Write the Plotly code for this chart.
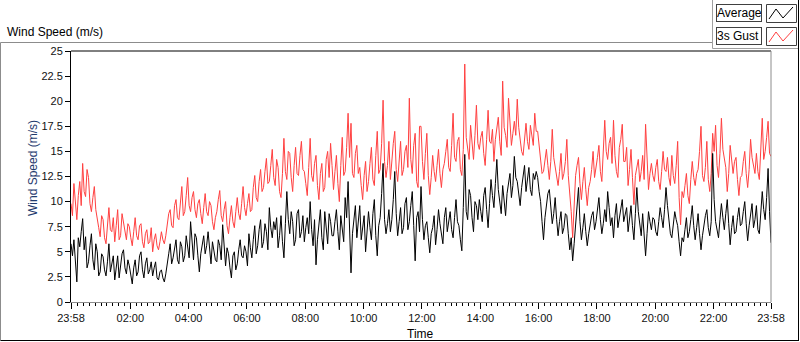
import pandas as pd
import plotly.graph_objects as go

# ---------------- data (3-minute samples, 23:58 -> 23:58 next day) ----------------
start_time = "2015-01-01 23:58"
step_minutes = 3

avg_speed = [
    5.8, 4.6, 6.2, 4.0, 2.0, 6.4, 5.5, 7.0, 8.3, 5.2, 6.5, 3.4, 4.0, 5.6, 6.8, 4.2, 3.2, 5.8, 5.0, 2.6,
    3.0, 4.8, 4.5, 3.2, 2.6, 4.0, 5.8, 3.0, 3.8, 4.6, 2.2, 3.6, 4.6, 2.4, 3.4, 4.8, 5.2, 3.4, 2.8, 4.2,
    3.6, 2.8, 1.8, 3.4, 4.2, 2.6, 3.0, 4.6, 5.0, 3.2, 2.4, 3.8, 4.4, 2.8, 3.2, 4.0, 2.6, 3.4, 4.0, 2.4,
    2.2, 3.0, 3.2, 2.4, 2.0, 2.8, 3.6, 4.8, 5.8, 3.8, 4.4, 5.4, 6.2, 4.2, 3.8, 6.0, 5.5, 4.0, 4.6, 6.6,
    5.6, 4.4, 8.0, 5.6, 4.2, 6.8, 6.4, 4.6, 3.0, 4.8, 5.8, 6.6, 4.8, 5.6, 7.0, 5.0, 3.8, 6.0, 5.2, 4.2,
    4.0, 6.2, 5.6, 4.2, 7.7, 5.0, 3.6, 5.4, 4.8, 3.4, 2.4, 4.6, 5.0, 3.2, 3.8, 5.2, 6.2, 4.6, 4.4, 5.6,
    5.0, 3.6, 6.8, 5.4, 4.4, 6.2, 7.6, 4.8, 5.6, 7.2, 8.2, 5.4, 6.0, 7.8, 7.0, 5.2, 9.4, 7.4, 6.4, 8.0,
    7.2, 8.4, 5.4, 6.6, 8.6, 6.0, 4.4, 7.8, 11.0, 8.2, 6.8, 9.0, 8.0, 5.6, 6.2, 8.8, 9.2, 6.4, 7.0, 8.6,
    6.0, 7.4, 8.4, 6.8, 10.0, 7.2, 5.6, 8.2, 3.7, 6.2, 7.8, 9.2, 6.4, 5.2, 9.0, 7.6, 5.8, 8.8, 8.0, 6.6,
    6.6, 8.0, 9.2, 7.0, 5.2, 8.6, 7.4, 6.0, 10.4, 8.4, 12.0, 7.6, 2.9, 6.8, 8.2, 9.6, 6.4, 7.8, 9.6, 6.2,
    7.2, 8.6, 5.0, 6.8, 9.0, 7.4, 6.2, 8.8, 10.2, 6.6, 4.6, 7.6, 8.4, 10.8, 13.8, 8.2, 6.8, 7.8, 9.2, 7.0,
    8.2, 10.2, 13.0, 8.8, 6.6, 8.0, 9.4, 6.8, 7.4, 9.8, 10.4, 7.2, 8.0, 9.6, 11.0, 7.6, 4.1, 8.4, 9.0, 7.0,
    11.5, 8.2, 6.2, 7.6, 8.0, 6.4, 4.9, 6.8, 7.4, 8.6, 5.7, 7.2, 9.2, 7.8, 6.6, 5.8, 8.4, 9.4, 7.0, 8.2,
    9.0, 7.2, 6.4, 8.4, 10.2, 8.0, 7.6, 6.2, 5.1, 9.4, 14.7, 9.0, 8.2, 11.2, 10.6, 8.4, 7.0, 10.0, 9.6, 8.2,
    10.2, 9.0, 8.0, 10.6, 11.4, 9.2, 7.4, 9.8, 12.2, 10.6, 9.4, 11.8, 14.2, 11.2, 10.0, 8.8, 11.6, 10.4, 8.6, 10.8,
    11.8, 12.8, 10.4, 11.6, 14.5, 12.4, 12.0, 10.8, 9.6, 11.4, 12.6, 13.6, 11.0, 12.0, 13.4, 11.2, 10.6, 12.8, 12.2, 13.0,
    12.4, 11.0, 10.0, 8.0, 6.2, 8.4, 9.4, 10.8, 11.2, 9.0, 7.8, 8.8, 10.4, 8.2, 6.6, 8.0, 9.0, 6.8, 7.4, 8.8,
    8.6, 6.8, 5.2, 6.4, 4.1, 5.8, 7.4, 9.2, 11.4, 8.0, 6.2, 7.4, 8.8, 7.0, 5.6, 6.8, 7.8, 8.6, 9.0, 7.2,
    8.0, 9.0, 10.4, 8.2, 6.8, 7.8, 9.2, 8.0, 11.0, 9.4, 7.6, 8.4, 6.4, 8.6, 9.8, 7.4, 8.4, 9.6, 10.2, 8.0,
    8.6, 9.4, 7.0, 8.2, 9.6, 7.6, 6.2, 8.8, 11.4, 9.0, 7.8, 6.6, 8.8, 7.0, 4.6, 6.8, 9.0, 8.0, 7.2, 8.4,
    8.2, 7.0, 6.6, 8.0, 9.4, 8.4, 7.4, 9.2, 11.4, 9.6, 8.0, 6.8, 6.4, 7.8, 9.0, 8.2, 7.6, 6.0, 4.6, 6.4,
    6.0, 7.2, 8.4, 6.4, 7.0, 8.2, 9.6, 7.6, 6.2, 7.4, 8.8, 6.8, 5.2, 6.6, 7.8, 8.6, 9.2, 7.4, 6.6, 8.0,
    14.8, 10.2, 8.0, 7.0, 6.4, 8.2, 9.8, 8.4, 7.2, 8.8, 10.2, 7.8, 5.7, 7.4, 8.6, 6.8, 7.0, 8.4, 9.4, 7.6,
    7.8, 9.0, 10.0, 7.8, 6.1, 7.6, 8.8, 9.8, 7.4, 8.2, 9.6, 7.2, 6.8, 8.6, 11.0, 9.2, 8.2, 10.4, 13.3, 9.0,
    5.9,
]

gust_speed = [
    9.8, 8.6, 11.8, 10.2, 8.2, 10.6, 12.0, 9.6, 13.8, 11.0, 10.5, 13.2, 12.4, 9.8, 9.0, 10.4, 11.5, 9.2, 8.0, 7.4,
    6.5, 8.6, 8.2, 6.4, 5.8, 7.4, 9.4, 7.2, 7.0, 8.4, 6.0, 7.6, 9.2, 6.2, 6.6, 8.8, 8.0, 7.0, 6.2, 7.8,
    7.5, 6.4, 5.6, 7.0, 8.4, 6.6, 6.2, 7.6, 7.8, 6.0, 5.4, 6.8, 7.2, 5.8, 6.0, 7.4, 5.0, 6.2, 6.8, 5.6,
    5.2, 6.0, 7.0, 6.2, 5.8, 6.6, 8.0, 8.8, 9.2, 7.6, 7.4, 9.6, 10.2, 8.4, 8.2, 10.0, 11.5, 8.6, 9.0, 10.6,
    12.4, 9.6, 9.0, 10.4, 11.0, 9.2, 8.4, 9.8, 10.2, 8.8, 7.8, 9.4, 10.8, 9.0, 8.6, 10.0, 9.6, 8.0, 7.2, 8.4,
    9.0, 10.2, 11.1, 8.6, 8.0, 9.2, 10.0, 7.6, 6.8, 8.4, 9.6, 8.0, 7.4, 9.0, 10.4, 8.8, 8.2, 9.8, 11.5, 9.4,
    8.6, 9.8, 10.8, 9.0, 9.2, 11.4, 12.6, 10.4, 10.0, 12.0, 13.2, 11.0, 11.4, 13.0, 14.3, 11.8, 12.0, 13.6, 15.2, 12.4,
    11.6, 14.2, 13.4, 11.0, 10.4, 12.8, 16.3, 13.0, 12.2, 15.0, 14.8, 12.4, 11.0, 13.6, 15.4, 12.8, 12.6, 14.6, 16.0, 13.2,
    13.0, 11.8, 10.6, 13.4, 16.3, 12.6, 12.0, 13.8, 14.6, 11.6, 10.2, 12.8, 13.8, 11.0, 11.4, 14.2, 15.0, 12.4, 15.8, 13.6,
    11.2, 13.0, 14.6, 11.8, 10.0, 13.6, 16.4, 12.6, 13.0, 15.4, 18.8, 14.4, 17.8, 12.8, 12.4, 14.8, 15.6, 12.8, 13.4, 11.6,
    10.2, 12.6, 14.0, 11.0, 12.0, 13.8, 15.4, 12.2, 11.6, 14.6, 17.0, 12.8, 13.2, 15.8, 20.1, 14.0, 12.4, 13.6, 16.0, 12.2,
    14.4, 15.8, 17.0, 13.2, 12.0, 14.4, 16.0, 12.6, 13.2, 15.0, 15.6, 13.4, 20.3, 14.2, 12.8, 15.6, 16.8, 12.0, 11.4, 17.5,
    17.5, 14.0, 12.2, 14.8, 16.8, 12.6, 10.7, 12.4, 14.6, 13.0, 12.0, 13.6, 15.2, 12.8, 11.4, 13.2, 13.8, 15.0, 16.2, 13.4,
    13.0, 15.6, 18.8, 14.4, 14.0, 16.0, 16.4, 13.2, 12.6, 15.2, 23.7, 16.4, 15.0, 14.2, 17.6, 15.4, 14.2, 16.6, 19.6, 15.8,
    15.2, 16.4, 17.0, 14.8, 13.6, 16.2, 19.1, 16.0, 15.8, 17.2, 14.0, 16.2, 17.4, 18.4, 16.0, 14.6, 22.0, 17.4, 16.6, 15.4,
    20.3, 17.2, 15.6, 16.8, 18.0, 16.6, 20.2, 17.4, 16.4, 15.0, 14.6, 16.2, 17.8, 16.0, 15.2, 17.6, 16.8, 15.6, 18.8, 17.0,
    17.0, 15.8, 14.4, 12.8, 13.0, 14.2, 15.2, 13.6, 12.2, 14.0, 17.2, 14.4, 13.6, 12.4, 11.6, 13.0, 14.8, 12.2, 12.8, 14.0,
    16.2, 12.6, 11.0, 9.0, 6.4, 9.8, 12.6, 13.6, 14.4, 11.8, 10.2, 12.0, 13.4, 11.2, 9.6, 11.4, 12.0, 13.2, 15.0, 12.4,
    13.2, 14.4, 15.6, 13.0, 12.0, 14.6, 18.1, 15.0, 14.2, 15.8, 16.4, 13.8, 18.1, 14.6, 13.0, 12.4, 15.4, 16.2, 17.7, 14.0,
    14.0, 15.4, 11.6, 13.2, 15.2, 12.4, 9.7, 12.6, 13.4, 14.2, 12.0, 13.0, 14.6, 12.2, 17.7, 13.4, 11.2, 12.8, 13.8, 12.6,
    12.0, 13.4, 14.2, 12.0, 11.2, 13.0, 15.0, 13.2, 13.0, 14.4, 12.4, 11.6, 14.6, 12.6, 11.8, 13.6, 16.0, 10.4, 7.7, 11.0,
    10.4, 11.6, 12.8, 10.6, 9.8, 12.2, 14.0, 12.4, 11.6, 12.8, 13.2, 15.0, 17.5, 12.6, 12.0, 13.4, 16.0, 12.2, 11.0, 12.8,
    16.8, 15.0, 17.6, 13.6, 12.4, 14.8, 18.3, 15.2, 14.2, 13.4, 11.0, 12.8, 15.6, 13.8, 12.8, 14.0, 14.4, 12.2, 10.6, 12.4,
    12.6, 14.0, 15.0, 12.8, 11.4, 13.2, 16.2, 14.4, 13.6, 12.8, 14.8, 13.0, 12.2, 15.6, 18.3, 14.2, 15.0, 16.4, 18.0, 14.8,
    14.5,
]

tick_times = ["2015-01-01 23:58", "2015-01-02 02:00", "2015-01-02 04:00",
              "2015-01-02 06:00", "2015-01-02 08:00", "2015-01-02 10:00",
              "2015-01-02 12:00", "2015-01-02 14:00", "2015-01-02 16:00",
              "2015-01-02 18:00", "2015-01-02 20:00", "2015-01-02 22:00",
              "2015-01-02 23:58"]
tick_labels = ["23:58", "02:00", "04:00", "06:00", "08:00", "10:00", "12:00",
               "14:00", "16:00", "18:00", "20:00", "22:00", "23:58"]

series_names = ["Average", "3s Gust"]
series_colors = ["#000000", "#FF4040"]

# ---------------- figure ----------------
avg_times = pd.date_range(start=start_time, periods=len(avg_speed), freq=f"{step_minutes}min")
gust_times = pd.date_range(start=start_time, periods=len(gust_speed), freq=f"{step_minutes}min")

W, H = 800, 342
L, R, T, B = 71, 771, 51, 302  # plot area pixels


def px(x):
    return (x - L) / (R - L)


def py(y):
    return (B - y) / (B - T)


FONT = "Liberation Sans, Arial, sans-serif"

fig = go.Figure()
fig.add_trace(go.Scatter(x=gust_times, y=gust_speed, mode="lines", name=series_names[1],
                         line=dict(color=series_colors[1], width=1)))
fig.add_trace(go.Scatter(x=avg_times, y=avg_speed, mode="lines", name=series_names[0],
                         line=dict(color=series_colors[0], width=1)))

fig.update_layout(
    width=W, height=H,
    margin=dict(l=L, r=W - R, t=T, b=H - B, pad=0),
    paper_bgcolor="white", plot_bgcolor="white",
    showlegend=False,
    font=dict(family=FONT, size=11, color="#111111"),
)

fig.update_xaxes(
    type="date",
    range=[tick_times[0], tick_times[-1]],
    tickmode="array", tickvals=tick_times, ticktext=tick_labels,
    ticks="outside", ticklen=6, tickwidth=1, tickcolor="#000000",
    minor=dict(ticks="outside", ticklen=3, tickwidth=1, tickcolor="#000000",
               tickmode="linear", tick0="2015-01-02 00:00", dtick=12 * 60 * 1000),
    showgrid=False, zeroline=False,
    showline=True, linecolor="#8c8c8c", linewidth=1,
    tickfont=dict(family=FONT, size=11, color="#111111"),
)
fig.update_yaxes(
    range=[0, 25], tickmode="linear", tick0=0, dtick=2.5,
    ticks="outside", ticklen=5, tickwidth=1, tickcolor="#000000",
    showgrid=False, zeroline=False,
    showline=True, linecolor="#000000", linewidth=1,
    tickfont=dict(family=FONT, size=11, color="#111111"),
)

shapes = []
# plot frame top (black) and right (gray)
shapes.append(dict(type="line", xref="paper", yref="paper", x0=0, x1=1, y0=1, y1=1,
                   line=dict(color="#000000", width=1)))
shapes.append(dict(type="line", xref="paper", yref="paper", x0=1, x1=1, y0=0, y1=1,
                   line=dict(color="#8c8c8c", width=1)))
# outer control frame
shapes.append(dict(type="line", xref="paper", yref="paper", x0=px(0.5), x1=px(712), y0=py(42.5), y1=py(42.5),
                   line=dict(color="#8c8c8c", width=1)))
shapes.append(dict(type="line", xref="paper", yref="paper", x0=px(0.5), x1=px(0.5), y0=py(42.5), y1=py(340.5),
                   line=dict(color="#8c8c8c", width=1)))
shapes.append(dict(type="line", xref="paper", yref="paper", x0=px(0.5), x1=px(799), y0=py(340.5), y1=py(340.5),
                   line=dict(color="#000000", width=1)))
shapes.append(dict(type="line", xref="paper", yref="paper", x0=px(798.5), x1=px(798.5), y0=py(0), y1=py(341),
                   line=dict(color="#000000", width=1)))
# legend panel frame
shapes.append(dict(type="line", xref="paper", yref="paper", x0=px(712.5), x1=px(712.5), y0=py(0), y1=py(48.5),
                   line=dict(color="#a0a0a0", width=1)))
shapes.append(dict(type="line", xref="paper", yref="paper", x0=px(712.5), x1=px(798), y0=py(48.5), y1=py(48.5),
                   line=dict(color="#a0a0a0", width=1)))

annotations = []
legend_rows = [(4, 22), (27, 45)]
for name, color, (y0, y1) in zip(series_names, series_colors, legend_rows):
    annotations.append(dict(
        text=name, xref="paper", yref="paper", x=px(716), y=py(y0), xanchor="left", yanchor="top",
        showarrow=False, width=44, height=y1 - y0 - 2, align="left", valign="middle",
        bordercolor="#404040", borderwidth=1, borderpad=0, bgcolor="white",
        font=dict(family=FONT, size=12, color="#000000")))
    shapes.append(dict(type="rect", xref="paper", yref="paper",
                       x0=px(766.5), x1=px(796.5), y0=py(y0 + 0.5), y1=py(y1 + 0.5),
                       line=dict(color="#404040", width=1), fillcolor="white"))
    pts = [(769, y1 - 3), (776, y0 + 5), (783, y1 - 4), (793, y0 + 3)]
    path = "M " + " L ".join(f"{px(a)},{py(b)}" for a, b in pts)
    shapes.append(dict(type="path", xref="paper", yref="paper", path=path,
                       line=dict(color=color, width=1)))

annotations.append(dict(text="Wind Speed (m/s)", xref="paper", yref="paper", x=px(5), y=py(32),
                        xanchor="left", yanchor="middle", showarrow=False,
                        font=dict(family=FONT, size=12, color="#000000")))
annotations.append(dict(text="Wind Speed (m/s)", xref="paper", yref="paper", x=px(33), y=py(168),
                        xanchor="center", yanchor="middle", textangle=-90, showarrow=False,
                        font=dict(family=FONT, size=12, color="#1f3b6e")))
annotations.append(dict(text="Time", xref="paper", yref="paper", x=px(420), y=py(334),
                        xanchor="center", yanchor="middle", showarrow=False,
                        font=dict(family=FONT, size=12, color="#000000")))

fig.update_layout(shapes=shapes, annotations=annotations)
fig.write_html("out.html", config={"displayModeBar": False},
               post_script="document.body.style.margin='0px';document.body.style.overflow='hidden';")
